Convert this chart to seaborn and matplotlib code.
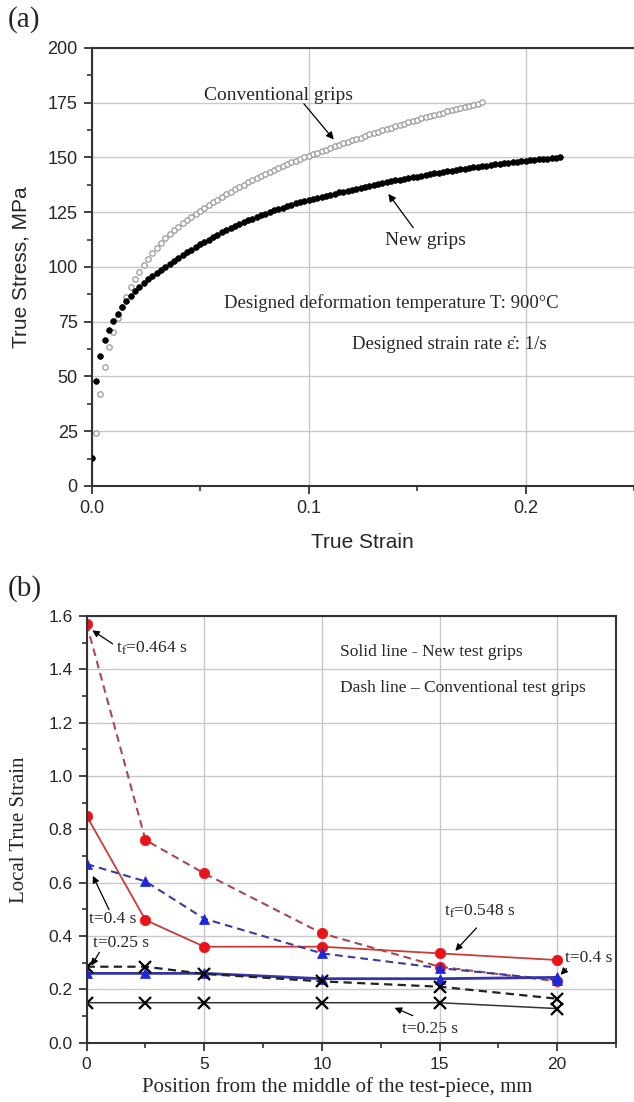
import seaborn as sns
import matplotlib.pyplot as plt
from matplotlib.ticker import MultipleLocator

# (a) curvas tensión-deformación
strain_new = [0.000, 0.002, 0.004, 0.006, 0.008, 0.010, 0.012, 0.014, 0.016, 0.018,
              0.020, 0.022, 0.024, 0.026, 0.028, 0.030, 0.032, 0.034, 0.036, 0.038,
              0.040, 0.042, 0.044, 0.046, 0.048, 0.050, 0.052, 0.054, 0.056, 0.058,
              0.060, 0.062, 0.064, 0.066, 0.068, 0.070, 0.072, 0.074, 0.076, 0.078,
              0.080, 0.082, 0.084, 0.086, 0.088, 0.090, 0.092, 0.094, 0.096, 0.098,
              0.100, 0.102, 0.104, 0.106, 0.108, 0.110, 0.112, 0.114, 0.116, 0.118,
              0.120, 0.122, 0.124, 0.126, 0.128, 0.130, 0.132, 0.134, 0.136, 0.138,
              0.140, 0.142, 0.144, 0.146, 0.148, 0.150, 0.152, 0.154, 0.156, 0.158,
              0.160, 0.162, 0.164, 0.166, 0.168, 0.170, 0.172, 0.174, 0.176, 0.178,
              0.180, 0.182, 0.184, 0.186, 0.188, 0.190, 0.192, 0.194, 0.196, 0.198,
              0.200, 0.202, 0.204, 0.206, 0.208, 0.210, 0.212, 0.214, 0.216]
stress_new = [13.0, 48.0, 59.5, 66.5, 71.3, 75.2, 78.6, 81.6, 84.3, 86.8,
              89.0, 91.0, 92.8, 94.5, 96.0, 97.4, 98.8, 100.2, 101.5, 102.8,
              104.1, 105.4, 106.7, 107.9, 109.1, 110.3, 111.4, 112.5, 113.6, 114.7,
              115.8, 116.8, 117.8, 118.7, 119.6, 120.4, 121.3, 122.1, 122.9, 123.6,
              124.4, 125.1, 125.8, 126.5, 127.1, 127.8, 128.4, 129.0, 129.5, 130.1,
              130.6, 131.1, 131.6, 132.1, 132.5, 133.0, 133.5, 134.0, 134.4, 134.9,
              135.3, 135.8, 136.2, 136.6, 137.1, 137.5, 137.9, 138.3, 138.7, 139.1,
              139.5, 139.9, 140.2, 140.6, 141.0, 141.3, 141.7, 142.0, 142.4, 142.7,
              143.1, 143.4, 143.7, 144.0, 144.3, 144.6, 144.9, 145.2, 145.5, 145.8,
              146.1, 146.3, 146.6, 146.8, 147.1, 147.3, 147.6, 147.8, 148.0, 148.3,
              148.5, 148.7, 148.9, 149.1, 149.3, 149.5, 149.7, 149.8, 150.0]

strain_conv = [0.002, 0.004, 0.006, 0.008, 0.010, 0.012, 0.014, 0.016, 0.018,
               0.020, 0.022, 0.024, 0.026, 0.028, 0.030, 0.032, 0.034, 0.036, 0.038,
               0.040, 0.042, 0.044, 0.046, 0.048, 0.050, 0.052, 0.054, 0.056, 0.058,
               0.060, 0.062, 0.064, 0.066, 0.068, 0.070, 0.072, 0.074, 0.076, 0.078,
               0.080, 0.082, 0.084, 0.086, 0.088, 0.090, 0.092, 0.094, 0.096, 0.098,
               0.100, 0.102, 0.104, 0.106, 0.108, 0.110, 0.112, 0.114, 0.116, 0.118,
               0.120, 0.122, 0.124, 0.126, 0.128, 0.130, 0.132, 0.134, 0.136, 0.138,
               0.140, 0.142, 0.144, 0.146, 0.148, 0.150, 0.152, 0.154, 0.156, 0.158,
               0.160, 0.162, 0.164, 0.166, 0.168, 0.170, 0.172, 0.174, 0.176, 0.178,
               0.180]
stress_conv = [24.0, 42.0, 54.5, 63.5, 70.5, 76.5, 81.8, 86.5, 90.7,
               94.5, 97.9, 101.0, 103.8, 106.4, 108.8, 111.0, 113.0, 114.9, 116.7,
               118.4, 120.0, 121.5, 123.0, 124.4, 125.7, 127.0, 128.3, 129.5, 130.8,
               132.0, 133.1, 134.3, 135.4, 136.5, 137.6, 138.6, 139.7, 140.7, 141.6,
               142.6, 143.5, 144.4, 145.3, 146.1, 147.0, 147.8, 148.5, 149.3, 150.0,
               150.7, 151.4, 152.2, 152.9, 153.6, 154.3, 155.0, 155.7, 156.4, 157.1,
               157.8, 158.5, 159.1, 159.8, 160.5, 161.1, 161.7, 162.4, 163.0, 163.6,
               164.2, 164.8, 165.4, 166.0, 166.6, 167.2, 167.8, 168.3, 168.9, 169.5,
               170.0, 170.5, 171.1, 171.6, 172.1, 172.6, 173.1, 173.6, 174.1, 174.6,
               175.1]

# (b) deformación local a lo largo de la probeta
position = [0, 2.5, 5, 10, 15, 20]
new_tf = [0.85, 0.46, 0.36, 0.36, 0.335, 0.31]
conv_tf = [1.57, 0.76, 0.635, 0.41, 0.285, 0.23]
new_t04 = [0.26, 0.26, 0.26, 0.24, 0.24, 0.245]
conv_t04 = [0.67, 0.605, 0.465, 0.335, 0.28, 0.235]
new_t025 = [0.15, 0.15, 0.15, 0.15, 0.15, 0.128]
conv_t025 = [0.285, 0.285, 0.258, 0.23, 0.21, 0.165]

sns.set_theme(style="ticks")
plt.rcParams['font.family'] = ['Liberation Sans', 'DejaVu Sans']
plt.rcParams['mathtext.fontset'] = 'stix'
serif = ['Liberation Serif', 'DejaVu Serif']

fig = plt.figure(figsize=(6.34, 11.02), dpi=100)
ax1 = fig.add_axes([0.1446, 0.559, 0.8554, 0.3975])
ax2 = fig.add_axes([0.1367, 0.0538, 0.8349, 0.3872])

for ax in (ax1, ax2):
    ax.set_axisbelow(True)
    ax.grid(True, which='major', color='#c8c8c8', lw=1)
    ax.tick_params(which='major', direction='out', length=6, width=1.2,
                   color='#222222', pad=4)
    ax.tick_params(which='minor', direction='out', length=3.5, width=1.1,
                   color='#222222')
    for sp in ax.spines.values():
        sp.set_color('#333333')
        sp.set_linewidth(1.5)

# ---------- (a) ----------
sns.scatterplot(x=strain_conv, y=stress_conv, ax=ax1, marker='o', s=15,
                facecolor='white', edgecolor='#9a9a9a', linewidth=0.9, zorder=3)
sns.scatterplot(x=strain_new, y=stress_new, ax=ax1, marker='o', s=17,
                color='black', edgecolor='black', linewidth=0.5, zorder=4)
ax1.set_xlim(0, 0.25)
ax1.set_ylim(0, 200)
ax1.xaxis.set_major_locator(MultipleLocator(0.1))
ax1.xaxis.set_minor_locator(MultipleLocator(0.05))
ax1.yaxis.set_major_locator(MultipleLocator(25))
ax1.yaxis.set_minor_locator(MultipleLocator(12.5))
ax1.xaxis.set_major_formatter(lambda v, p: f"{v:.1f}")
ax1.tick_params(labelsize=13)
ax1.spines['right'].set_visible(False)
ax1.set_xlabel("True Strain", fontsize=15, va='center')
ax1.set_ylabel("True Stress, MPa", fontsize=15, va='center')
ax1.xaxis.set_label_coords(0.50, -0.130)
ax1.yaxis.set_label_coords(-0.130, 0.50)

ax1.text(0.052, 178.5, "Conventional grips", family=serif, fontsize=14, va='center')
ax1.annotate("", xy=(0.1124, 157.2), xytext=(0.097, 175.5),
             arrowprops=dict(arrowstyle='-|>', color='black', lw=0.9, mutation_scale=11))
ax1.text(0.1353, 112.3, "New grips", family=serif, fontsize=14, va='center')
ax1.annotate("", xy=(0.136, 134.4), xytext=(0.149, 116.9),
             arrowprops=dict(arrowstyle='-|>', color='black', lw=0.9, mutation_scale=11))
ax1.text(0.0611, 83.4, "Designed deformation temperature T: 900°C",
         family=serif, fontsize=13.5, va='center')
ax1.text(0.120, 64.4, "Designed strain rate \u03b5\u0307: 1/s",
         family=serif, fontsize=13.5, va='center')

# ---------- (b) ----------
red_m, blue_m = '#e8141a', '#1a28e0'
dash = (0, (3.7, 2.4))
series = [
    (conv_tf, '#a8484f', dash, 1.5, 'o', red_m),
    (new_tf, '#c83c3c', '-', 1.3, 'o', red_m),
    (conv_t04, '#3c3c9c', dash, 1.5, '^', blue_m),
    (new_t04, '#3434a8', '-', 2.0, '^', blue_m),
    (conv_t025, '#222222', dash, 1.6, 'x', 'black'),
    (new_t025, '#333333', '-', 1.1, 'x', 'black'),
]
for vals, lc, ls, lw, mk, mc in series:
    sns.lineplot(x=position, y=vals, ax=ax2, color=lc, linestyle=ls, linewidth=lw,
                 marker=mk, markersize=7.5 if mk != 'x' else 8,
                 markerfacecolor=mc, markeredgecolor=mc,
                 markeredgewidth=1.6 if mk == 'x' else 0.5, sort=False)

ax2.set_xlim(0, 22.5)
ax2.set_ylim(0, 1.6)
ax2.xaxis.set_major_locator(MultipleLocator(5))
ax2.xaxis.set_minor_locator(MultipleLocator(2.5))
ax2.yaxis.set_major_locator(MultipleLocator(0.2))
ax2.yaxis.set_minor_locator(MultipleLocator(0.1))
ax2.yaxis.set_major_formatter(lambda v, p: f"{v:.1f}")
ax2.tick_params(labelsize=12.5)
ax2.set_xlabel("Position from the middle of the test-piece, mm", family=serif,
               fontsize=15, va='center')
ax2.set_ylabel("Local True Strain", family=serif, fontsize=15, va='center')
ax2.xaxis.set_label_coords(0.473, -0.104)
ax2.yaxis.set_label_coords(-0.126, 0.50)

tf = serif
arrow = dict(arrowstyle='-|>', color='black', lw=0.9, mutation_scale=10)
ax2.text(1.25, 1.48, r"t$_\mathrm{f}$=0.464 s", family=tf, fontsize=12.5, va='center')
ax2.annotate("", xy=(0.14, 1.552), xytext=(1.2, 1.49), arrowprops=arrow)
ax2.text(10.78, 1.465, "Solid line - New test grips", family=tf, fontsize=12.5, va='center')
ax2.text(10.78, 1.33, "Dash line \u2013 Conventional test grips", family=tf,
         fontsize=12.5, va='center')
ax2.text(0.1, 0.464, "t=0.4 s", family=tf, fontsize=12.5, va='center')
ax2.annotate("", xy=(0.21, 0.635), xytext=(1.0, 0.49), arrowprops=arrow)
ax2.text(0.27, 0.374, "t=0.25 s", family=tf, fontsize=12.5, va='center')
ax2.annotate("", xy=(0.14, 0.28), xytext=(0.6, 0.348), arrowprops=arrow)
ax2.text(15.17, 0.491, r"t$_\mathrm{f}$=0.548 s", family=tf, fontsize=12.5, va='center')
ax2.annotate("", xy=(15.59, 0.337), xytext=(16.65, 0.438), arrowprops=arrow)
ax2.text(20.35, 0.318, "t=0.4 s", family=tf, fontsize=12.5, va='center')
ax2.annotate("", xy=(20.06, 0.247), xytext=(20.48, 0.285), arrowprops=arrow)
ax2.text(13.42, 0.051, "t=0.25 s", family=tf, fontsize=12.5, va='center')
ax2.annotate("", xy=(12.98, 0.135), xytext=(13.97, 0.0975), arrowprops=arrow)

fig.text(0.012, 1 - 20 / 1102, "(a)", family=serif, fontsize=21, va='center')
fig.text(0.012, 1 - 589 / 1102, "(b)", family=serif, fontsize=21, va='center')

fig.savefig("out.png", dpi=100)
